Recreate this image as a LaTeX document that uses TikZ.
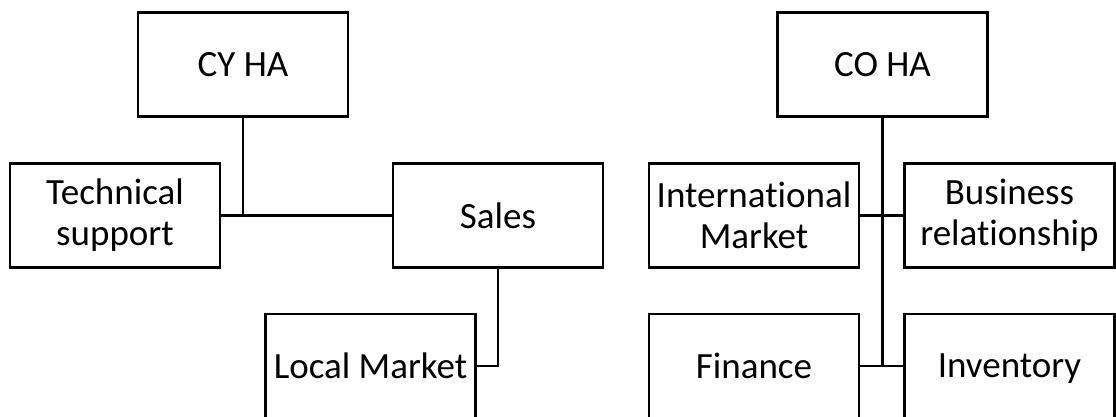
\documentclass[tikz,border=0pt]{standalone}
\usepackage{fontspec}
\setmainfont[Ligatures=NoCommon]{Carlito}
\begin{document}
\begin{tikzpicture}[x=1pt,y=-1pt,
  unit/.style={draw, line width=2.2pt, minimum width=210pt, minimum height=104pt,
    inner sep=0pt, align=center, font=\fontsize{37}{41}\selectfont},
  link/.style={line width=2.2pt}]
\useasboundingbox (0,0) rectangle (1116,416);

% left chart
\node[unit] (cy) at (243,64.5) {CY HA};
\node[unit] (tech) at (115,215.5) {Technical\\support};
\node[unit] (sales) at (498,215.5) {Sales};
\node[unit] (local) at (370.5,366) {Local Market};

\draw[link] (tech.east) -- (sales.west);
\draw[link] (cy.south) -- (cy.south |- tech.east);
\draw[link] (sales.south) |- (local.east);

% right chart
\node[unit] (co) at (882.5,64.5) {CO HA};
\node[unit] (intl) at (754,215.5) {International\\Market};
\node[unit] (biz) at (1009.5,215.5) {Business\\relationship};
\node[unit] (fin) at (754,366) {Finance};
\node[unit, text depth=0pt] (inv) at (1009.5,366) {Inventory};

\draw[link] (intl.east) -- (biz.west);
\draw[link] (fin.east) -- (inv.west);
\draw[link] (co.south) -- (co.south |- fin.east);
\end{tikzpicture}
\end{document}
